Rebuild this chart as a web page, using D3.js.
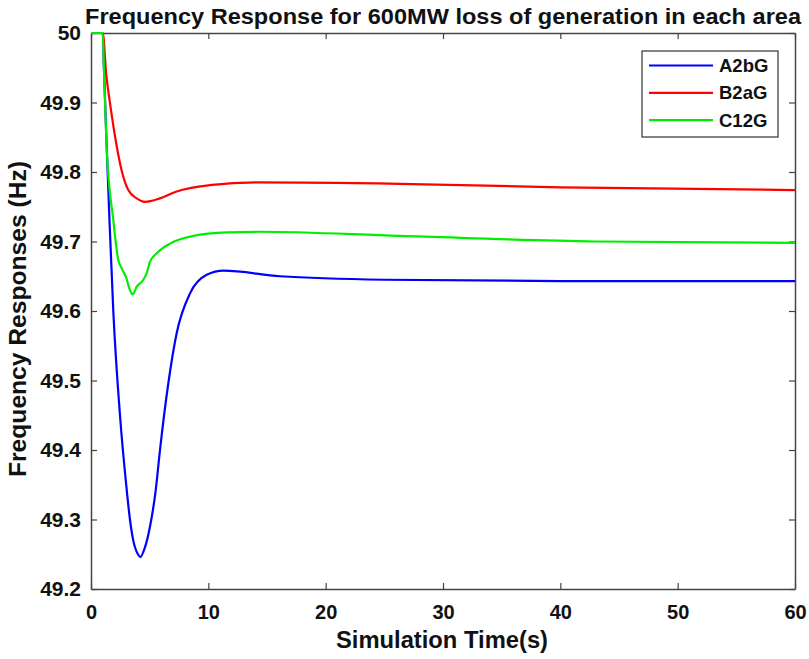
<!DOCTYPE html>
<html>
<head>
<meta charset="utf-8">
<script src="https://cdn.jsdelivr.net/npm/d3@7"></script>
<style>
  body { margin: 0; background: #fff; }
  text { font-family: "Liberation Sans", Arial, sans-serif; font-weight: bold; fill: #111; }
</style>
</head>
<body>
<script>
// values (time in s, frequency in Hz)
const seriesNames = ["A2bG", "B2aG", "C12G"];
const seriesColors = ["#0000ff", "#ff0000", "#00ee00"];
const xTicks = [0, 10, 20, 30, 40, 50, 60];
const yTicks = [49.2, 49.3, 49.4, 49.5, 49.6, 49.7, 49.8, 49.9, 50];

const a2bg = [[0,50],[1,50],[1.1,49.95],[1.33,49.84],[1.6,49.72],[1.9,49.6],[2.47,49.45],
  [3.0,49.35],[3.32,49.30],[3.6,49.27],[4.0,49.25],[4.2,49.246],[4.6,49.26],[5.03,49.29],
  [5.5,49.34],[5.88,49.40],[6.59,49.496],[7.3,49.568],[8.43,49.625],[9.86,49.652],
  [11.3,49.658],[16.1,49.65],[25,49.645],[40,49.643],[60,49.643]];
const b2ag = [[0,50],[1,50],[1.3,49.94],[1.62,49.899],[2.05,49.851],[2.6,49.803],[3.18,49.774],
  [3.9,49.762],[4.6,49.757],[5.88,49.762],[7.3,49.772],[10.1,49.781],[14.1,49.785],
  [26.3,49.783],[40,49.778],[60,49.774]];
const c12g = [[0,50],[1,50],[1.1,49.95],[1.33,49.836],[1.9,49.731],[2.33,49.673],[2.6,49.662],
  [3.0,49.648],[3.32,49.630],[3.55,49.624],[3.9,49.635],[4.46,49.645],[4.74,49.654],
  [5.03,49.671],[5.6,49.683],[6.73,49.697],[8.72,49.708],[11.6,49.713],[14.4,49.714],
  [26.3,49.708],[43,49.700],[60,49.698]];
const allSeries = [a2bg, b2ag, c12g];

const width = 809, height = 659;
const margin = {left: 91, right: 14, top: 33, bottom: 70};

const svg = d3.select("body").append("svg")
  .attr("width", width).attr("height", height);

const x = d3.scaleLinear().domain([0, 60]).range([margin.left, width - margin.right]);
const y = d3.scaleLinear().domain([49.2, 50]).range([height - margin.bottom, margin.top]);

// axes with inward ticks on all sides
const axisColor = "#444";
function styleAxis(g) {
  g.select(".domain").attr("stroke", axisColor).attr("stroke-width", 1.5);
  g.selectAll(".tick line").attr("stroke", axisColor).attr("stroke-width", 1.2);
}
svg.append("g").attr("transform", `translate(0,${y(49.2)})`)
  .call(d3.axisBottom(x).tickValues(xTicks).tickSize(-6).tickPadding(16).tickSizeOuter(0))
  .call(styleAxis)
  .call(g => g.selectAll("text").attr("font-size", 20).attr("fill", "#111"));
svg.append("g").attr("transform", `translate(0,${y(50)})`)
  .call(d3.axisTop(x).tickValues(xTicks).tickSize(-6).tickFormat("").tickSizeOuter(0))
  .call(styleAxis);
svg.append("g").attr("transform", `translate(${x(0)},0)`)
  .call(d3.axisLeft(y).tickValues(yTicks).tickSize(-6).tickPadding(10).tickSizeOuter(0)
    .tickFormat(d => d3.format("")(+d.toFixed(1))))
  .call(styleAxis)
  .call(g => g.selectAll("text").attr("font-size", 21).attr("fill", "#111"));
svg.append("g").attr("transform", `translate(${x(60)},0)`)
  .call(d3.axisRight(y).tickValues(yTicks).tickSize(-6).tickFormat("").tickSizeOuter(0))
  .call(styleAxis);

// lines
const line = d3.line().x(d => x(d[0])).y(d => y(d[1])).curve(d3.curveMonotoneX);
svg.selectAll("path.series").data(allSeries).join("path")
  .attr("class", "series")
  .attr("d", line)
  .attr("fill", "none")
  .attr("stroke", (d, i) => seriesColors[i])
  .attr("stroke-width", 2.2);

// title and labels
svg.append("text").attr("x", 443).attr("y", 24).attr("text-anchor", "middle")
  .attr("font-size", 22).attr("textLength", 716).attr("lengthAdjust", "spacingAndGlyphs")
  .text("Frequency Response for 600MW loss of generation in each area");
svg.append("text").attr("x", 442).attr("y", 648).attr("text-anchor", "middle")
  .attr("font-size", 23).attr("fill", "#222")
  .attr("textLength", 212).attr("lengthAdjust", "spacingAndGlyphs")
  .text("Simulation Time(s)");
svg.append("text").attr("transform", "translate(26,319) rotate(-90)").attr("text-anchor", "middle")
  .attr("font-size", 23).attr("fill", "#222")
  .attr("textLength", 316).attr("lengthAdjust", "spacingAndGlyphs")
  .text("Frequency Responses (Hz)");

// legend
const leg = svg.append("g");
leg.append("rect").attr("x", 642).attr("y", 51).attr("width", 136).attr("height", 86)
  .attr("fill", "#fff").attr("stroke", "#333").attr("stroke-width", 1.2);
seriesNames.forEach((name, i) => {
  const ly = 65.5 + i * 27.3;
  leg.append("line").attr("x1", 649).attr("x2", 713).attr("y1", ly).attr("y2", ly)
    .attr("stroke", seriesColors[i]).attr("stroke-width", 2.2);
  leg.append("text").attr("x", 719).attr("y", ly + 6.5).attr("font-size", 18.5).text(name);
});
</script>
</body>
</html>
